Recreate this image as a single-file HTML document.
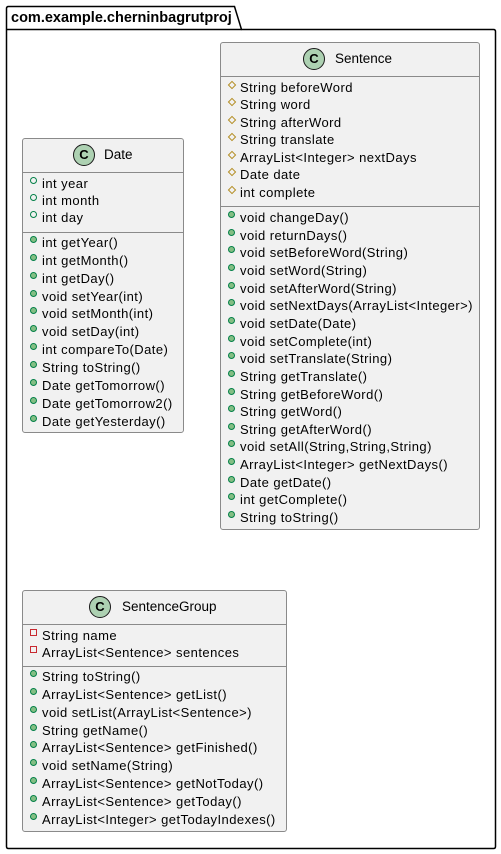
<!DOCTYPE html>
<html><head><meta charset="utf-8"><style>
body{margin:0;width:501px;height:854px;background:#fff;position:relative;font-family:"Liberation Sans",sans-serif;overflow:hidden}
.a{position:absolute}
.box{position:absolute;background:#f1f1f1;border:1px solid #8a8a8a;border-radius:3px;box-sizing:border-box}
.hr{position:absolute;left:0;right:0;height:1px;background:#8a8a8a}
.r{position:absolute;height:16px;line-height:16px;font-size:13px;letter-spacing:0.45px;white-space:nowrap;color:#000}
.i{position:absolute;box-sizing:border-box}
.pu{width:7px;height:7px;border-radius:50%;background:#84be84;border:1px solid #038048;left:-12px;top:1px}
.pf{width:7px;height:7px;border-radius:50%;border:1px solid #038048;left:-12px;top:1px}
.pr{width:6px;height:6px;border:1px solid #b38d22;transform:rotate(45deg);left:-11px;top:2px}
.pv{width:7px;height:7px;border:1px solid #c82930;left:-12px;top:1px}
.c{position:absolute;width:22px;height:22px;border-radius:50%;background:#add1b2;border:1px solid #181818;box-sizing:border-box;font-weight:bold;font-size:13px;text-align:center;line-height:20px}
.t{position:absolute;font-size:13.5px;height:22px;line-height:22px}
</style></head><body>
<svg class="a" style="left:0;top:0" width="501" height="854">
<path d="M6.5,29.5 L6.5,8.5 Q6.5,6.5 8.5,6.5 L234.5,6.5 L241.5,29.5 L493.5,29.5 Q495.5,29.5 495.5,31.5 L495.5,846.5 Q495.5,848.5 493.5,848.5 L8.5,848.5 Q6.5,848.5 6.5,846.5 Z" fill="none" stroke="#000" stroke-width="1.5"/>
<line x1="6.5" y1="29.5" x2="241.5" y2="29.5" stroke="#000" stroke-width="1.5"/>
</svg>
<div class="a" style="left:11px;top:9px;font-size:14.5px;font-weight:bold;line-height:18px">com.example.cherninbagrutproj</div>

<!-- Date -->
<div class="box" style="left:22px;top:138px;width:162px;height:295px">
<div class="c" style="left:50px;top:5px">C</div><div class="t" style="left:81px;top:5px">Date</div>
<div class="hr" style="top:33px"></div><div class="hr" style="top:93px"></div>
</div>
<div class="r" style="left:42px;top:176px"><i class="i pf"></i>int year</div>
<div class="r" style="left:42px;top:193px"><i class="i pf"></i>int month</div>
<div class="r" style="left:42px;top:210px"><i class="i pf"></i>int day</div>
<div class="r" style="left:42px;top:235px"><i class="i pu"></i>int getYear()</div>
<div class="r" style="left:42px;top:253px"><i class="i pu"></i>int getMonth()</div>
<div class="r" style="left:42px;top:271px"><i class="i pu"></i>int getDay()</div>
<div class="r" style="left:42px;top:289px"><i class="i pu"></i>void setYear(int)</div>
<div class="r" style="left:42px;top:306px"><i class="i pu"></i>void setMonth(int)</div>
<div class="r" style="left:42px;top:324px"><i class="i pu"></i>void setDay(int)</div>
<div class="r" style="left:42px;top:342px"><i class="i pu"></i>int compareTo(Date)</div>
<div class="r" style="left:42px;top:360px"><i class="i pu"></i>String toString()</div>
<div class="r" style="left:42px;top:378px"><i class="i pu"></i>Date getTomorrow()</div>
<div class="r" style="left:42px;top:396px"><i class="i pu"></i>Date getTomorrow2()</div>
<div class="r" style="left:42px;top:414px"><i class="i pu"></i>Date getYesterday()</div>

<!-- Sentence -->
<div class="box" style="left:220px;top:42px;width:260px;height:488px">
<div class="c" style="left:82px;top:5px">C</div><div class="t" style="left:114px;top:5px">Sentence</div>
<div class="hr" style="top:33px"></div><div class="hr" style="top:163px"></div>
</div>
<div class="r" style="left:240px;top:80px"><i class="i pr"></i>String beforeWord</div>
<div class="r" style="left:240px;top:97px"><i class="i pr"></i>String word</div>
<div class="r" style="left:240px;top:115px"><i class="i pr"></i>String afterWord</div>
<div class="r" style="left:240px;top:132px"><i class="i pr"></i>String translate</div>
<div class="r" style="left:240px;top:150px"><i class="i pr"></i>ArrayList&lt;Integer&gt; nextDays</div>
<div class="r" style="left:240px;top:167px"><i class="i pr"></i>Date date</div>
<div class="r" style="left:240px;top:185px"><i class="i pr"></i>int complete</div>
<div class="r" style="left:240px;top:210px"><i class="i pu"></i>void changeDay()</div>
<div class="r" style="left:240px;top:227.6px"><i class="i pu"></i>void returnDays()</div>
<div class="r" style="left:240px;top:245.3px"><i class="i pu"></i>void setBeforeWord(String)</div>
<div class="r" style="left:240px;top:262.9px"><i class="i pu"></i>void setWord(String)</div>
<div class="r" style="left:240px;top:280.6px"><i class="i pu"></i>void setAfterWord(String)</div>
<div class="r" style="left:240px;top:298.2px"><i class="i pu"></i>void setNextDays(ArrayList&lt;Integer&gt;)</div>
<div class="r" style="left:240px;top:315.9px"><i class="i pu"></i>void setDate(Date)</div>
<div class="r" style="left:240px;top:333.5px"><i class="i pu"></i>void setComplete(int)</div>
<div class="r" style="left:240px;top:351.2px"><i class="i pu"></i>void setTranslate(String)</div>
<div class="r" style="left:240px;top:368.8px"><i class="i pu"></i>String getTranslate()</div>
<div class="r" style="left:240px;top:386.5px"><i class="i pu"></i>String getBeforeWord()</div>
<div class="r" style="left:240px;top:404.1px"><i class="i pu"></i>String getWord()</div>
<div class="r" style="left:240px;top:421.8px"><i class="i pu"></i>String getAfterWord()</div>
<div class="r" style="left:240px;top:439.4px"><i class="i pu"></i>void setAll(String,String,String)</div>
<div class="r" style="left:240px;top:457.1px"><i class="i pu"></i>ArrayList&lt;Integer&gt; getNextDays()</div>
<div class="r" style="left:240px;top:474.7px"><i class="i pu"></i>Date getDate()</div>
<div class="r" style="left:240px;top:492.4px"><i class="i pu"></i>int getComplete()</div>
<div class="r" style="left:240px;top:510px"><i class="i pu"></i>String toString()</div>

<!-- SentenceGroup -->
<div class="box" style="left:22px;top:590px;width:265px;height:242px">
<div class="c" style="left:66px;top:5px">C</div><div class="t" style="left:99px;top:5px">SentenceGroup</div>
<div class="hr" style="top:33px"></div><div class="hr" style="top:75px"></div>
</div>
<div class="r" style="left:42px;top:628px"><i class="i pv"></i>String name</div>
<div class="r" style="left:42px;top:645px"><i class="i pv"></i>ArrayList&lt;Sentence&gt; sentences</div>
<div class="r" style="left:42px;top:669px"><i class="i pu"></i>String toString()</div>
<div class="r" style="left:42px;top:687px"><i class="i pu"></i>ArrayList&lt;Sentence&gt; getList()</div>
<div class="r" style="left:42px;top:705px"><i class="i pu"></i>void setList(ArrayList&lt;Sentence&gt;)</div>
<div class="r" style="left:42px;top:723px"><i class="i pu"></i>String getName()</div>
<div class="r" style="left:42px;top:740px"><i class="i pu"></i>ArrayList&lt;Sentence&gt; getFinished()</div>
<div class="r" style="left:42px;top:758px"><i class="i pu"></i>void setName(String)</div>
<div class="r" style="left:42px;top:776px"><i class="i pu"></i>ArrayList&lt;Sentence&gt; getNotToday()</div>
<div class="r" style="left:42px;top:794px"><i class="i pu"></i>ArrayList&lt;Sentence&gt; getToday()</div>
<div class="r" style="left:42px;top:812px"><i class="i pu"></i>ArrayList&lt;Integer&gt; getTodayIndexes()</div>
</body></html>
